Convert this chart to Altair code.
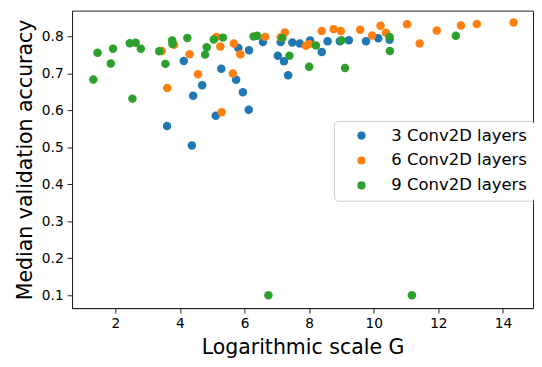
import altair as alt
import pandas as pd

series = ["3 Conv2D layers", "6 Conv2D layers", "9 Conv2D layers"]
colors = ["#1f77b4", "#ff7f0e", "#2ca02c"]

blue_x = [3.60, 4.12, 4.37, 4.69, 4.41, 5.28, 5.11, 5.81, 6.14, 5.74, 5.95, 6.13, 6.57,
          7.12, 7.48, 7.71, 7.03, 7.22, 7.35, 8.03, 8.39, 8.57, 8.95, 9.23, 9.76, 10.14, 10.49]
blue_y = [0.558, 0.734, 0.505, 0.668, 0.640, 0.713, 0.586, 0.769, 0.763, 0.683, 0.649, 0.602, 0.785,
          0.785, 0.784, 0.781, 0.748, 0.733, 0.695, 0.789, 0.758, 0.787, 0.787, 0.790, 0.787, 0.795, 0.791]

orange_x = [3.44, 3.61, 3.82, 4.30, 4.56, 5.29, 5.13, 5.25, 5.67, 5.87, 5.64, 6.64, 7.12, 7.25,
            7.90, 8.00, 8.39, 8.76, 8.98, 9.58, 9.95, 10.21, 10.38, 11.03, 11.42, 11.95, 12.70,
            13.19, 14.33]
orange_y = [0.761, 0.661, 0.778, 0.752, 0.698, 0.595, 0.799, 0.773, 0.781, 0.752, 0.700, 0.799,
            0.798, 0.811, 0.775, 0.780, 0.815, 0.820, 0.815, 0.818, 0.803, 0.829, 0.810, 0.833,
            0.781, 0.816, 0.830, 0.834, 0.838]

green_x = [1.32, 1.45, 1.86, 1.93, 2.45, 2.53, 2.63, 2.79, 3.36, 3.55, 3.76, 3.77, 4.23, 4.78,
           4.83, 5.05, 5.33, 6.28, 6.39, 6.74, 7.17, 7.39, 8.00, 8.21, 9.00, 9.11, 10.49, 10.50,
           11.18, 12.54]
green_y = [0.684, 0.756, 0.727, 0.767, 0.782, 0.632, 0.783, 0.767, 0.760, 0.726, 0.789, 0.780,
           0.796, 0.751, 0.771, 0.792, 0.797, 0.800, 0.802, 0.100, 0.796, 0.748, 0.718, 0.776,
           0.790, 0.715, 0.799, 0.761, 0.100, 0.802]

x_ticks = [2, 4, 6, 8, 10, 12, 14]
y_ticks = [0.1, 0.2, 0.3, 0.4, 0.5, 0.6, 0.7, 0.8]

rows = []
for name, xs, ys in zip(series, [blue_x, orange_x, green_x], [blue_y, orange_y, green_y]):
    for xv, yv in zip(xs, ys):
        rows.append({"G": xv, "acc": yv, "layers": name})
df = pd.DataFrame(rows)

W, H = 468, 302
FONT = "DejaVu Sans"

chart = alt.Chart(df).mark_circle(size=74, opacity=1).encode(
    x=alt.X("G:Q",
            scale=alt.Scale(domain=[0.66, 14.93], nice=False, zero=False),
            axis=alt.Axis(title="Logarithmic scale G", values=x_ticks, format="d", grid=False,
                          tickSize=5, labelPadding=4, labelFontSize=13.9, titleFontSize=20.8,
                          titleX=W / 2, titleY=46, titleBaseline="alphabetic", titleAlign="center")),
    y=alt.Y("acc:Q",
            scale=alt.Scale(domain=[0.0654, 0.870], nice=False, zero=False),
            axis=alt.Axis(title="Median validation accuracy", values=y_ticks, format=".1f", grid=False,
                          tickSize=5, labelPadding=4, labelFontSize=13.9, titleFontSize=20.8,
                          titleX=-41, titleY=H / 2, titleAngle=270, titleBaseline="alphabetic",
                          titleAlign="center")),
    color=alt.Color("layers:N",
                    scale=alt.Scale(domain=series, range=colors),
                    legend=alt.Legend(title=None, orient="none", legendX=266, legendY=112,
                                      padding=6.5, symbolOffset=13, labelOffset=22, rowPadding=7.3,
                                      strokeColor="#cccccc", fillColor="white", cornerRadius=4,
                                      labelFontSize=16.7, labelFont=FONT, labelColor="#000",
                                      symbolSize=70, symbolType="circle", symbolStrokeWidth=0,
                                      symbolOpacity=1)),
).properties(
    width=W, height=H,
    padding={"left": 65, "top": 0, "right": 1, "bottom": 49},
    autosize=alt.AutoSizeParams(type="none"),
).configure_view(
    stroke="#222", strokeWidth=1
).configure_axis(
    domainColor="#222", tickColor="#222", labelColor="#000", titleColor="#000",
    labelFont=FONT, titleFont=FONT, titleFontWeight="normal"
)

chart.save("out.html", embed_options={"renderer": "svg", "actions": False})
